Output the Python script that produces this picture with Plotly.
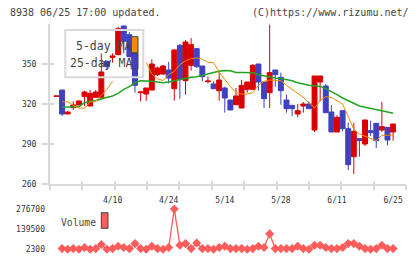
import plotly.graph_objects as go

# ---------------- data ----------------
idx = list(range(61))
opens = [325.7, 330.5, 312.5, 317.3, 319.3, 325.5, 318.5, 325.0, 325.0, 352.0,
         355.0, 357.0, 378.5, 372.0, 358.0, 328.5, 327.5, 330.5, 342.0, 342.5,
         345.5, 331.5, 364.0, 337.5, 349.0, 361.5, 348.5, 336.8, 335.0, 330.0,
         332.0, 323.0, 319.5, 317.0, 331.0, 331.0, 350.0, 336.5, 328.5, 345.5,
         340.0, 323.0, 319.0, 312.5, 318.5, 320.0, 300.5, 336.5, 333.5, 314.0,
         299.0, 315.0, 301.5, 280.5, 294.0, 290.0, 300.0, 305.5, 300.5, 302.5,
         299.0]
highs = [326.0, 330.5, 314.5, 322.0, 322.5, 330.0, 330.5, 330.5, 358.0, 352.0,
         358.0, 378.0, 379.0, 374.0, 358.0, 329.5, 332.0, 353.5, 348.0, 349.5,
         351.5, 361.0, 365.0, 368.0, 369.5, 362.0, 348.5, 340.5, 337.0, 345.0,
         333.0, 323.0, 332.0, 338.0, 336.5, 350.0, 350.0, 336.5, 379.5, 345.5,
         343.5, 327.0, 319.0, 320.0, 321.5, 322.0, 341.0, 341.0, 335.0, 319.0,
         311.5, 315.0, 306.0, 306.0, 294.0, 308.0, 307.5, 305.5, 321.5, 302.5,
         305.0]
lows = [325.7, 311.0, 312.5, 315.5, 319.3, 318.5, 318.5, 325.0, 323.0, 346.0,
        351.0, 357.0, 358.0, 355.0, 328.5, 322.0, 322.5, 330.5, 341.0, 342.0,
        335.5, 322.5, 324.0, 327.0, 345.0, 347.0, 337.0, 335.5, 331.0, 322.5,
        313.5, 315.5, 319.5, 317.0, 328.5, 331.0, 330.0, 317.0, 317.0, 333.0,
        319.5, 313.5, 311.0, 310.0, 313.5, 316.5, 299.0, 322.0, 313.5, 299.0,
        299.0, 299.5, 270.5, 267.5, 280.5, 288.5, 296.0, 287.0, 299.0, 289.0,
        292.5]
closes = [326.0, 312.5, 314.0, 319.3, 322.3, 329.0, 328.0, 329.0, 344.0, 348.0,
          356.0, 376.5, 367.0, 355.5, 334.0, 329.0, 332.0, 350.0, 347.0, 348.5,
          339.5, 360.5, 338.5, 366.5, 364.5, 348.0, 340.5, 337.2, 331.5, 338.0,
          324.5, 315.5, 326.0, 334.0, 336.5, 349.0, 336.5, 324.0, 343.5, 342.0,
          330.0, 316.5, 316.5, 315.0, 320.0, 316.5, 341.0, 341.0, 313.5, 299.0,
          310.0, 301.5, 274.5, 299.5, 292.5, 308.0, 298.5, 292.5, 303.0, 293.0,
          305.0]
# 5-day MA (gap where the line is hidden behind the legend box)
ma5 = [None, 321.7, 321.7, 319.0, 317.0, 316.8, 321.5, 322.0, 326.5, 331.0,
       337.0, None, None, None, None, None, 351.0, 342.5, 339.0, 337.5,
       342.0, 344.5, 349.5, 352.5, 354.0, 354.5, 353.5, 351.3, 351.0, 344.0,
       338.5, 333.0, 328.5, 327.5, 327.5, 328.5, 334.0, 337.0, 338.0, 338.0,
       337.5, 334.0, 331.0, 328.0, 325.0, 321.0, 317.0, 322.5, 325.5, 325.0,
       322.5, 320.0, 310.5, 301.0, 297.5, 296.0, 294.0, 292.5, 296.5, 296.7,
       296.7]
ma25 = [None, 317.5, 318.0, 318.0, 318.0, 321.0, 322.0, 322.5, 324.0, 325.0,
        326.0, 328.0, 331.0, 333.0, 336.0, 337.5, 337.5, 337.0, 336.5, 336.0,
        336.5, 337.5, 338.0, 339.0, 340.0, 340.5, 341.7, 342.5, 343.7, 344.5,
        345.2, 345.0, 343.7, 343.7, 343.7, 343.5, 342.0, 341.0, 340.0, 339.5,
        339.2, 338.5, 337.5, 336.0, 335.0, 334.0, 333.7, 333.2, 331.5, 329.5,
        327.0, 324.5, 322.5, 320.5, 318.5, 317.5, 316.8, 316.0, 315.0, 314.0,
        313.0]
volume = [None, 7000, 2300, 7000, 2300, 14000, 2300, 7000, 34500, 2300,
          7000, 23000, 14000, 7000, 41000, 7000, 2300, 23000, 7000, 2300,
          14000, 276700, 30000, 41000, 7000, 45500, 7000, 7000, 2300, 14000,
          23000, 7000, 7000, 7000, 2300, 7000, 23000, 14000, 107000, 7000,
          7000, 7000, 7000, 23000, 7000, 2300, 30000, 30000, 14000, 7000,
          7000, 14000, 41000, 41000, 23000, 7000, 2300, 7000, 30000, 7000,
          7000]
tick_idx = [10, 20, 30, 40, 50, 60]
tick_labels = ["4/10", "4/24", "5/14", "5/28", "6/11", "6/25"]
price_ticks = [260, 290, 320, 350]
vol_ticks = [2300, 139500, 276700]
vol_tick_labels = ["2300", "139500", "276700"]

# ---------------- styling / layout ----------------
W, H = 420, 259
PL, PR, PT, PB = 50, 406, 22, 255          # plot-area pixel box
MONO = "DejaVu Sans Mono"
AX = "#d9d9d9"
RED, BLUE = "#d90000", "#4040c0"
ORANGE, GREEN = "#f08c00", "#1fa51f"
VOLC = "#ff5c5c"

def fx(p):
    return (p - PL) / (PR - PL)

def fy(p):
    return (PB - p) / (PB - PT)

XR = [-1.15, 62.3]
YR = [260, 380]
VR = [-36800, 311000]
deco_ticks = [XR[0] + k * (XR[1] - XR[0]) / 11 for k in range(12)]

fig = go.Figure()
fig.add_trace(go.Scatter(x=idx, y=ma25, mode="lines", line=dict(color=GREEN, width=1.5),
                         connectgaps=False, hoverinfo="skip"))
fig.add_trace(go.Scatter(x=idx, y=ma5, mode="lines", line=dict(color=ORANGE, width=1),
                         connectgaps=False, hoverinfo="skip"))
fig.add_trace(go.Candlestick(
    x=idx, open=opens, high=highs, low=lows, close=closes,
    increasing=dict(line=dict(color=RED, width=1), fillcolor=RED),
    decreasing=dict(line=dict(color=BLUE, width=1), fillcolor=BLUE),
    whiskerwidth=0, hoverinfo="skip"))
fig.add_trace(go.Scatter(x=idx, y=volume, mode="lines+markers", xaxis="x2", yaxis="y2",
                         line=dict(color=VOLC, width=1.3),
                         marker=dict(symbol="diamond", size=7, color=VOLC),
                         hoverinfo="skip"))
# empty helpers so that the overlay tick axes get drawn
fig.add_trace(go.Scatter(x=[], y=[], xaxis="x3", yaxis="y", hoverinfo="skip"))
fig.add_trace(go.Scatter(x=[], y=[], xaxis="x4", yaxis="y", hoverinfo="skip"))
fig.add_trace(go.Scatter(x=[], y=[], xaxis="x", yaxis="y3", hoverinfo="skip"))

tickfont = dict(family=MONO, size=8, color="#333333")
main_dom = [fy(184), fy(PT + 2)]
vol_dom = [0, fy(204)]

fig.update_layout(
    width=W, height=H,
    margin=dict(l=PL, r=W - PR, t=PT, b=H - PB, pad=0, autoexpand=False),
    paper_bgcolor="white", plot_bgcolor="rgba(0,0,0,0)",
    showlegend=False, boxgap=0.12, boxgroupgap=0,
    xaxis=dict(domain=[0, 1], range=XR, anchor="y", tickmode="array",
               tickvals=tick_idx, ticktext=tick_labels, ticks="",
               showline=True, linecolor=AX, linewidth=2, showgrid=False,
               zeroline=False, tickfont=tickfont, ticklabelstandoff=7,
               automargin=False, rangeslider=dict(visible=False)),
    xaxis3=dict(overlaying="x", range=XR, anchor="y", tickmode="array",
                tickvals=deco_ticks, ticks="outside", ticklen=5, tickwidth=1.5,
                tickcolor=AX, showticklabels=False, showline=False,
                showgrid=False, zeroline=False, automargin=False),
    xaxis4=dict(overlaying="x", range=XR, anchor="y", tickmode="array",
                tickvals=deco_ticks, ticks="inside", ticklen=3, tickwidth=1.5,
                tickcolor=AX, showticklabels=False, showline=False,
                showgrid=False, zeroline=False, automargin=False),
    yaxis=dict(domain=main_dom, range=YR, anchor="x", tickmode="array",
               tickvals=price_ticks, ticks="outside", ticklen=6, tickwidth=1.5,
               tickcolor=AX, showline=True, linecolor=AX, linewidth=2,
               showgrid=False, zeroline=False, tickfont=tickfont,
               ticklabelstandoff=4, automargin=False),
    yaxis3=dict(overlaying="y", range=YR, anchor="x", tickmode="array",
                tickvals=price_ticks, ticks="inside", ticklen=4, tickwidth=1.5,
                tickcolor=AX, showticklabels=False, showline=False,
                showgrid=False, zeroline=False, automargin=False),
    xaxis2=dict(domain=[0, 1], range=XR, anchor="y2", visible=False,
                automargin=False),
    yaxis2=dict(domain=vol_dom, range=VR, anchor="x2", tickmode="array",
                tickvals=vol_ticks, ticktext=vol_tick_labels, ticks="",
                showline=False, showgrid=False, zeroline=False,
                tickfont=tickfont, ticklabelstandoff=4, automargin=False),
)

ann = [
    dict(text="8938 06/25 17:00 updated.", x=fx(8), y=fy(12), xanchor="left",
         font=dict(family=MONO, size=10, color="#444444")),
    dict(text="(C)https://www.rizumu.net/", x=fx(411), y=fy(12), xanchor="right",
         font=dict(family=MONO, size=10, color="#444444")),
    dict(text="5-day MA", x=fx(133), y=fy(46), xanchor="right",
         font=dict(family=MONO, size=11.5, color="#444444")),
    dict(text="25-day MA", x=fx(134), y=fy(63), xanchor="right",
         font=dict(family=MONO, size=11.5, color="#444444")),
    dict(text="Volume", x=fx(58.5), y=fy(222.5), xanchor="left",
         font=dict(family=MONO, size=9.7, color="#444444")),
]
for a in ann:
    a.update(xref="paper", yref="paper", yanchor="middle", showarrow=False)
fig.update_layout(annotations=ann)

shapes = [
    dict(type="rect", x0=fx(65.3), x1=fx(143.3), y0=fy(30), y1=fy(77.3),
         line=dict(color=AX, width=2), fillcolor="rgba(0,0,0,0)"),
    dict(type="rect", x0=fx(131.3), x1=fx(138), y0=fy(36.7), y1=fy(52.7),
         line=dict(color="#444444", width=1), fillcolor=ORANGE),
    dict(type="rect", x0=fx(131.3), x1=fx(138), y0=fy(53.3), y1=fy(69),
         line=dict(color="#444444", width=1), fillcolor="rgba(0,0,0,0)"),
    dict(type="rect", x0=fx(101.3), x1=fx(108), y0=fy(212.7), y1=fy(228.3),
         line=dict(color="#444444", width=1), fillcolor=VOLC),
]
for s in shapes:
    s.update(xref="paper", yref="paper", layer="above")
fig.update_layout(shapes=shapes)

fig.write_html("out.html")
